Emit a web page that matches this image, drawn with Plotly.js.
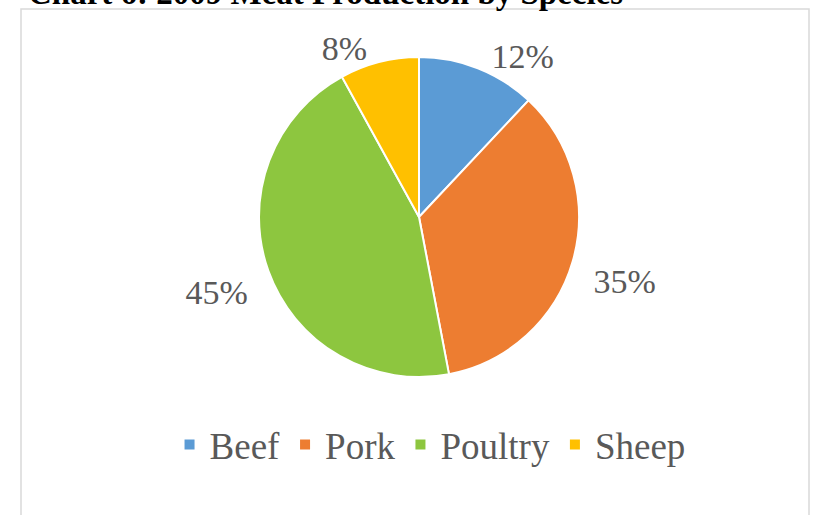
<!DOCTYPE html>
<html><head><meta charset="utf-8">
<script src="https://cdn.plot.ly/plotly-3.0.1.min.js"></script>
<style>html,body{margin:0;padding:0;background:#fff}</style>
</head><body>
<div id="chart" style="width:816px;height:515px"></div>
<script>
const categories = ["Beef", "Pork", "Poultry", "Sheep"];
const shares = [12, 35, 45, 8];
const colors = ["#5B9BD5", "#ED7D31", "#8DC63F", "#FFC000"];
const titleText = "Chart 6: 2009 Meat Production by Species";

const W = 816, H = 515;
const cx = 419, cy = 217, r = 160;
const lcx = 419, lcy = 232, rLabel = 172;
const px = v => v / W, py = v => 1 - v / H;

const pieTrace = {
  type: "pie",
  labels: categories,
  values: shares,
  sort: false,
  direction: "clockwise",
  rotation: 0,
  marker: {colors: colors, line: {color: "#ffffff", width: 2}},
  textinfo: "none",
  domain: {x: [px(cx - 200), px(cx + 200)], y: [py(cy + r), py(cy - r)]},
  hoverinfo: "label+percent"
};

const labelTrace = {
  type: "pie",
  labels: categories,
  values: shares,
  sort: false,
  direction: "clockwise",
  rotation: 0,
  showlegend: false,
  marker: {colors: ["rgba(0,0,0,0)", "rgba(0,0,0,0)", "rgba(0,0,0,0)", "rgba(0,0,0,0)"], line: {width: 0}},
  texttemplate: "%{percent:.0%}",
  textposition: "outside",
  outsidetextfont: {family: "Liberation Serif", size: 34, color: "#595959"},
  domain: {x: [px(lcx - 220), px(lcx + 220)], y: [py(lcy + rLabel), py(lcy - rLabel)]},
  hoverinfo: "skip"
};

const layout = {
  width: W, height: H,
  margin: {l: 0, r: 0, t: 0, b: 0},
  paper_bgcolor: "#ffffff",
  showlegend: true,
  legend: {
    orientation: "h", x: 0.527, xanchor: "center", y: py(445), yanchor: "middle",
    font: {family: "Liberation Serif", size: 37, color: "#595959"},
    itemwidth: 30,
    traceorder: "normal"
  },
  annotations: [{
    text: "<b>" + titleText + "</b>",
    xref: "paper", yref: "paper",
    x: px(26), xanchor: "left", y: py(13), yanchor: "bottom",
    showarrow: false,
    font: {family: "Liberation Serif", size: 33, color: "#000000"}
  }],
  shapes: [{
    type: "rect", xref: "paper", yref: "paper",
    x0: px(21), x1: px(809), y0: py(540), y1: py(9),
    line: {color: "#d9d9d9", width: 1.5}
  }]
};

Plotly.newPlot("chart", [labelTrace, pieTrace], layout, {displayModeBar: false});
</script>
</body></html>
